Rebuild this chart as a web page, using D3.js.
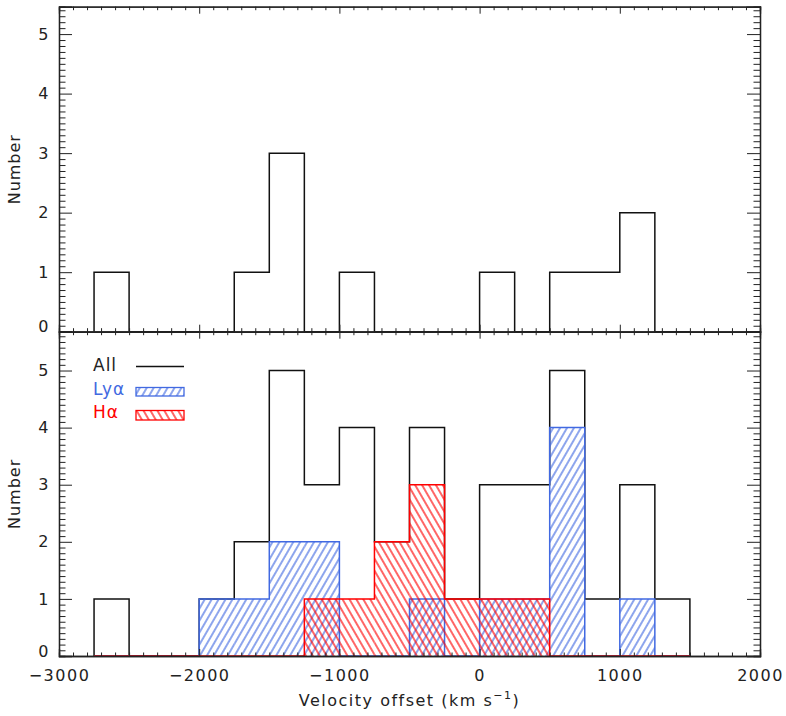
<!DOCTYPE html>
<html>
<head>
<meta charset="utf-8">
<script src="https://cdn.jsdelivr.net/npm/d3@7"></script>
<style>
  body { margin: 0; background: #fff; }
  svg text { font-family: "DejaVu Sans", sans-serif; fill: #222; }
</style>
</head>
<body>
<div id="chart"></div>
<script>
// histogram bins (left edges, km/s), each 250 wide
const binLeft = [-2750, -2500, -2250, -2000, -1750, -1500, -1250, -1000, -750, -500, -250, 0, 250, 500, 750, 1000, 1250];
const binWidth = 250;

// top panel
const topAll = [1, 0, 0, 0, 1, 3, 0, 1, 0, 0, 0, 1, 0, 1, 1, 2, 0];

// bottom panel
const bottomAll = [1, 0, 0, 1, 2, 5, 3, 4, 2, 4, 1, 3, 3, 5, 1, 3, 1];
const lyaCounts = [0, 0, 0, 1, 1, 2, 2, 0, 0, 1, 0, 1, 1, 4, 0, 1, 0];
const haCounts = [0, 0, 0, 0, 0, 0, 1, 1, 2, 3, 1, 1, 1, 0, 0, 0, 0];

const xTicks = [-3000, -2000, -1000, 0, 1000, 2000];
const yTicks = [0, 1, 2, 3, 4, 5];

const width = 786;
const height = 716;
const left = 59;
const right = 760;
const topY = 6.7;
const midY = 331.7;
const bottomY = 656;

const blue = '#4169e1';
const red = '#ff0000';

const svg = d3.select('#chart')
  .append('svg')
  .attr('width', width)
  .attr('height', height);

const x = d3.scaleLinear().domain([-3000, 2000]).range([left, right]);
const yTop = d3.scaleLinear().domain([0, 5.46]).range([midY, topY]);
const yBottom = d3.scaleLinear().domain([0, 5.68]).range([bottomY, midY]);

// hatch patterns
const defs = svg.append('defs');
function hatch (id, color, angle) {
  const p = defs.append('pattern')
    .attr('id', id)
    .attr('patternUnits', 'userSpaceOnUse')
    .attr('width', 6)
    .attr('height', 20)
    .attr('patternTransform', 'rotate(' + angle + ')');
  p.append('line')
    .attr('x1', 3).attr('y1', -2)
    .attr('x2', 3).attr('y2', 22)
    .attr('stroke', color)
    .attr('stroke-width', 1.2);
}
hatch('hatchBlue', blue, 30);
hatch('hatchRed', red, -30);

// step outline of a histogram
function outline (counts, y) {
  const pts = [[x(binLeft[0]), y(0)]];
  counts.forEach((c, i) => {
    pts.push([x(binLeft[i]), y(c)]);
    pts.push([x(binLeft[i] + binWidth), y(c)]);
  });
  pts.push([x(binLeft[binLeft.length - 1] + binWidth), y(0)]);
  return d3.line()(pts);
}

function drawHist (g, counts, y, color, fill) {
  if (fill) {
    g.append('g')
      .selectAll('rect')
      .data(counts.map((c, i) => ({ x0: binLeft[i], c: c })).filter(d => d.c > 0))
      .enter()
      .append('rect')
      .attr('x', d => x(d.x0))
      .attr('y', d => y(d.c))
      .attr('width', d => x(d.x0 + binWidth) - x(d.x0))
      .attr('height', d => y(0) - y(d.c))
      .attr('fill', fill);
  }
  g.append('path')
    .attr('d', outline(counts, y))
    .attr('fill', 'none')
    .attr('stroke', color)
    .attr('stroke-width', 1.5);
}

function minorValues (max, step, majors) {
  const out = [];
  for (let i = 0; i * step <= max + 1e-9; i++) {
    const v = Math.round(i * step * 1000) / 1000;
    if (majors.indexOf(v) < 0) out.push(v);
  }
  return out;
}

function drawFrame (y, y0, y1, showXLabels) {
  const ymax = y.domain()[1];
  const yMinor = minorValues(ymax, 0.1, yTicks);
  const xMinor = d3.range(-30, 21).map(i => i * 100).filter(v => xTicks.indexOf(v) < 0);
  const g = svg.append('g').attr('class', 'frame');

  // left
  const leftAxis = g.append('g')
    .attr('transform', 'translate(' + left + ',0)')
    .call(d3.axisLeft(y).tickValues(yTicks).tickSize(-13).tickPadding(9).tickFormat(d3.format('d')));
  // zero label sits a little higher, clear of the x axis
  leftAxis.selectAll('.tick text').filter(d => d === 0).attr('y', -5);
  g.append('g')
    .attr('transform', 'translate(' + left + ',0)')
    .call(d3.axisLeft(y).tickValues(yMinor).tickSize(-6.5).tickFormat(''));
  // right
  g.append('g')
    .attr('transform', 'translate(' + right + ',0)')
    .call(d3.axisRight(y).tickValues(yTicks).tickSize(-13).tickFormat(''));
  g.append('g')
    .attr('transform', 'translate(' + right + ',0)')
    .call(d3.axisRight(y).tickValues(yMinor).tickSize(-6.5).tickFormat(''));
  // bottom
  g.append('g')
    .attr('transform', 'translate(0,' + y0 + ')')
    .call(d3.axisBottom(x).tickValues(xTicks).tickSize(-7).tickPadding(14)
      .tickFormat(showXLabels ? d3.format('d') : ''));
  g.append('g')
    .attr('transform', 'translate(0,' + y0 + ')')
    .call(d3.axisBottom(x).tickValues(xMinor).tickSize(-3.5).tickFormat(''));
  // top
  g.append('g')
    .attr('transform', 'translate(0,' + y1 + ')')
    .call(d3.axisTop(x).tickValues(xTicks).tickSize(-7).tickFormat(''));
  g.append('g')
    .attr('transform', 'translate(0,' + y1 + ')')
    .call(d3.axisTop(x).tickValues(xMinor).tickSize(-3.5).tickFormat(''));

  g.selectAll('.domain').attr('stroke', '#222').attr('stroke-width', 1.3);
  g.selectAll('.tick line').attr('stroke', '#222').attr('stroke-width', 1);
  g.selectAll('.tick text')
    .attr('font-size', 16)
    .attr('letter-spacing', 1.5)
    .attr('fill', '#222');

  svg.append('text')
    .attr('transform', 'translate(20,' + ((y0 + y1) / 2) + ') rotate(-90)')
    .attr('text-anchor', 'middle')
    .attr('font-size', 16)
    .attr('letter-spacing', 1)
    .text('Number');
}

// top panel
const gTop = svg.append('g');
drawHist(gTop, topAll, yTop, '#111', null);

// bottom panel
const gBottom = svg.append('g');
drawHist(gBottom, bottomAll, yBottom, '#111', null);
drawHist(gBottom, lyaCounts, yBottom, blue, 'url(#hatchBlue)');
drawHist(gBottom, haCounts, yBottom, red, 'url(#hatchRed)');

drawFrame(yTop, midY, topY, false);
drawFrame(yBottom, bottomY, midY, true);

// x axis title
const title = svg.append('text')
  .attr('x', (left + right) / 2)
  .attr('y', 706)
  .attr('text-anchor', 'middle')
  .attr('font-size', 16)
  .attr('letter-spacing', 1.5);
title.append('tspan').text('Velocity offset (km s');
title.append('tspan').attr('dy', -7).attr('font-size', 11).text('−1');
title.append('tspan').attr('dy', 7).text(')');

// legend
const legend = svg.append('g');
legend.append('text').attr('x', 93).attr('y', 371).attr('font-size', 17).attr('letter-spacing', 1).text('All');
legend.append('line')
  .attr('x1', 136).attr('x2', 184).attr('y1', 366.5).attr('y2', 366.5)
  .attr('stroke', '#111').attr('stroke-width', 1.5);

legend.append('text').attr('x', 93).attr('y', 395).attr('font-size', 17).attr('letter-spacing', 1)
  .style('fill', blue).text('Lyα');
legend.append('rect')
  .attr('x', 136).attr('y', 387.5).attr('width', 48).attr('height', 8.5)
  .attr('fill', 'url(#hatchBlue)').attr('stroke', blue).attr('stroke-width', 1.3);

legend.append('text').attr('x', 93).attr('y', 418).attr('font-size', 17).attr('letter-spacing', 1)
  .style('fill', red).text('Hα');
legend.append('rect')
  .attr('x', 136).attr('y', 410.5).attr('width', 48).attr('height', 9.5)
  .attr('fill', 'url(#hatchRed)').attr('stroke', red).attr('stroke-width', 1.3);
</script>
</body>
</html>
